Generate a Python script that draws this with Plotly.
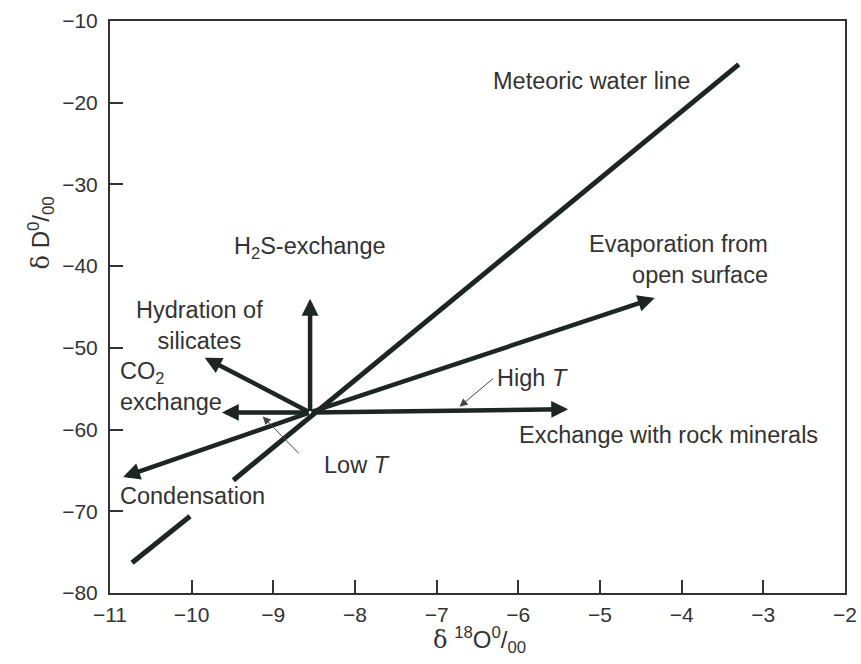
import plotly.graph_objects as go

# ---- data ----
origin_x = -8.55
origin_y = -57.9

arrow_names = ["H2S-exchange", "Hydration of silicates", "CO2 exchange",
               "Condensation", "Exchange with rock minerals", "Evaporation"]
tip_x = [-8.55, -9.84, -9.63, -10.84, -5.39, -4.33]
tip_y = [-44.0, -51.2, -57.9, -65.8, -57.5, -43.9]

mwl_x = [-10.73, -10.02, None, -9.49, -3.30]
mwl_y = [-76.3, -70.6, None, -66.2, -15.3]

# thin pointer lines (tip, tail)
ptr_names = ["Low T", "High T"]
ptr_tip_x = [-9.13, -6.72]
ptr_tip_y = [-58.4, -57.2]
ptr_tail_x = [-8.67, -6.29]
ptr_tail_y = [-63.1, -53.6]

label_texts = ["Meteoric water line", "Evaporation from<br>open surface",
               "H<sub>2</sub>S-exchange", "Hydration of<br>silicates",
               "CO<sub>2</sub><br>exchange", "High <i>T</i>",
               "Exchange with rock minerals", "Low <i>T</i>", "Condensation"]
label_x = [-5.10, -2.92, -8.55, -9.90, -10.90, -6.29, -6.02, -8.41, -10.90]
label_y = [-17.3, -39.2, -37.7, -47.3, -54.7, -53.7, -60.7, -64.3, -68.1]
label_xanchor = ["center", "right", "center", "center", "left", "left", "left", "left", "left"]
label_align = ["center", "right", "center", "center", "left", "left", "left", "left", "left"]

x_ticks = [-11, -10, -9, -8, -7, -6, -5, -4, -3, -2]
y_ticks = [-80, -70, -60, -50, -40, -30, -20, -10]

LINE = "#1d2622"
TXT = "#333333"
FONT = "Liberation Sans, Arial, sans-serif"

fig = go.Figure()
fig.add_trace(go.Scatter(x=mwl_x, y=mwl_y, mode="lines",
                         line=dict(color=LINE, width=5), showlegend=False,
                         hoverinfo="skip", connectgaps=False))

annotations = []
for tx, ty in zip(tip_x, tip_y):
    annotations.append(dict(x=tx, y=ty, ax=origin_x, ay=origin_y,
                            xref="x", yref="y", axref="x", ayref="y",
                            text="", showarrow=True, arrowhead=2,
                            arrowsize=0.75, arrowwidth=4.5, arrowcolor=LINE,
                            standoff=0, startstandoff=0))
for tx, ty, sx, sy in zip(ptr_tip_x, ptr_tip_y, ptr_tail_x, ptr_tail_y):
    annotations.append(dict(x=tx, y=ty, ax=sx, ay=sy,
                            xref="x", yref="y", axref="x", ayref="y",
                            text="", showarrow=True, arrowhead=2,
                            arrowsize=1.6, arrowwidth=1, arrowcolor="#444444",
                            standoff=0, startstandoff=0))
for t, lx, ly, xa, al in zip(label_texts, label_x, label_y, label_xanchor, label_align):
    annotations.append(dict(x=lx, y=ly, xref="x", yref="y", text=t,
                            showarrow=False, xanchor=xa, yanchor="middle",
                            align=al, font=dict(family=FONT, size=23.5, color=TXT)))

# axis titles
annotations.append(dict(x=-0.12, y=0.63, xref="paper", yref="paper",
                        text="<span style='font-family:DejaVu Serif, serif'>δ</span> D<sup>0</sup>/<sub>00</sub>",
                        textangle=-90, showarrow=False,
                        font=dict(family=FONT, size=24, color=TXT)))
annotations.append(dict(x=0.503, y=-0.082, xref="paper", yref="paper",
                        text="<span style='font-family:DejaVu Serif, serif'>δ</span> <sup>18</sup>O<sup>0</sup>/<sub>00</sub>",
                        showarrow=False, yanchor="middle",
                        font=dict(family=FONT, size=24, color=TXT)))

fig.update_layout(
    width=861, height=664,
    margin=dict(l=110, r=16, t=21, b=71, autoexpand=False),
    paper_bgcolor="white", plot_bgcolor="white",
    annotations=annotations,
    showlegend=False,
)
fig.update_xaxes(range=[-11, -2], tickvals=x_ticks, ticks="inside", ticklen=13,
                 tickwidth=1.5, tickcolor="#333", showline=True, linecolor="#333",
                 linewidth=2, mirror=True, showgrid=False, zeroline=False,
                 automargin=False,
                 tickfont=dict(family=FONT, size=21, color=TXT), ticklabelstandoff=2)
fig.update_yaxes(range=[-80, -10], tickvals=y_ticks, ticks="inside", ticklen=13,
                 tickwidth=1.5, tickcolor="#333", showline=True, linecolor="#333",
                 linewidth=2, mirror=True, showgrid=False, zeroline=False,
                 automargin=False,
                 tickfont=dict(family=FONT, size=21, color=TXT), ticklabelstandoff=6)

# remove the default page-body margin so the 861x664 figure fills the window
fig.write_html("out.html", config={"displayModeBar": False},
               post_script="document.body.style.margin='0';")
